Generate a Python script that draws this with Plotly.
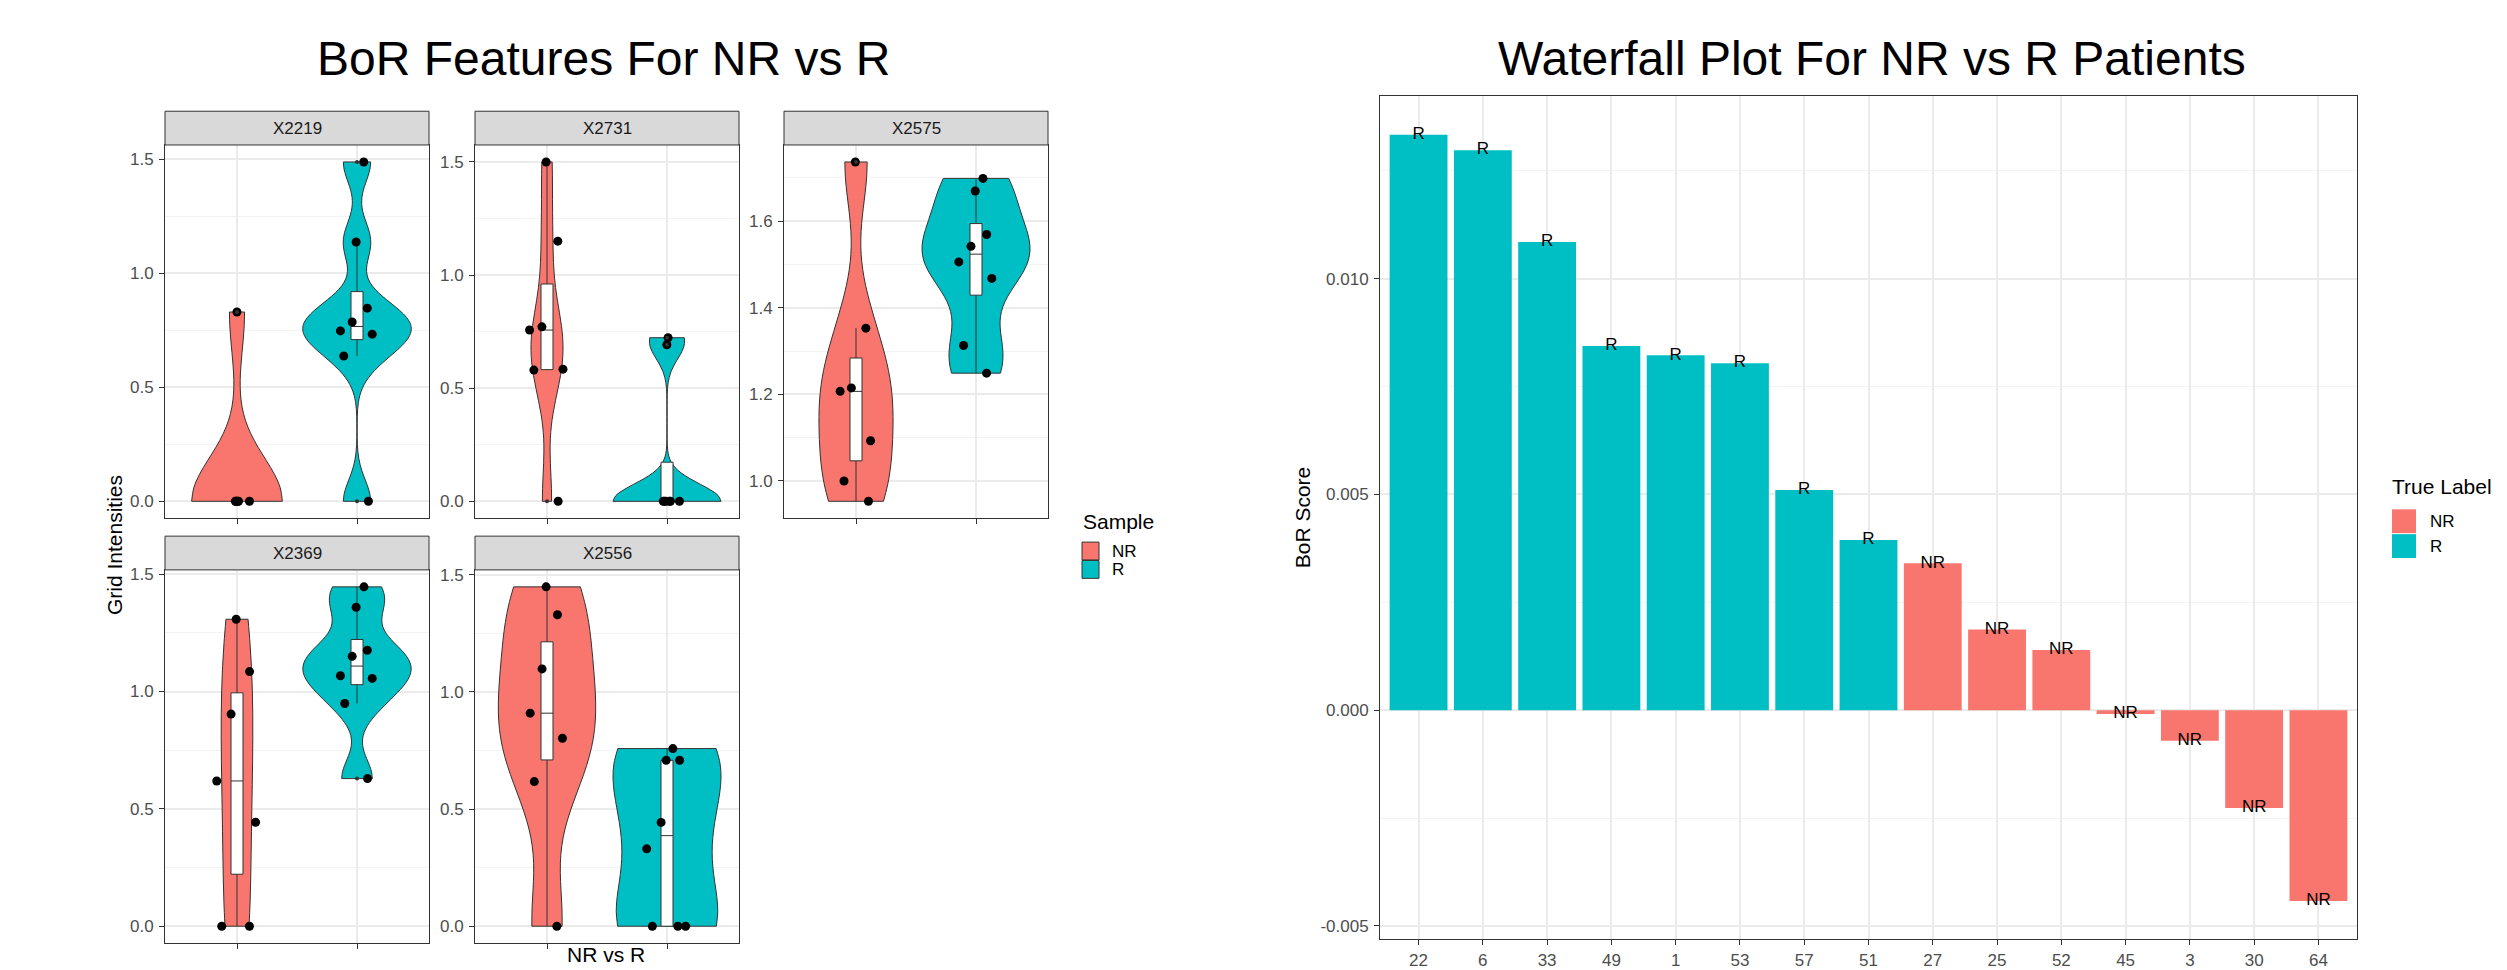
import numpy as np
import plotly.graph_objects as go

W, H = 2507, 970

# ---------------- data: violin panels ----------------
features = ["X2219", "X2731", "X2575", "X2369", "X2556"]
groups = ["NR", "R"]

x2219_nr = [0.0, 0.0, 0.0, 0.0, 0.0, 0.0, 0.83]
x2219_r = [1.488, 1.137, 0.847, 0.786, 0.747, 0.733, 0.637, 0.0]
x2731_nr = [1.50, 1.15, 0.771, 0.757, 0.584, 0.580, 0.0]
x2731_r = [0.723, 0.692, 0.0, 0.0, 0.0, 0.0, 0.0, 0.0]
x2575_nr = [1.737, 1.353, 1.215, 1.207, 1.093, 1.0, 0.953]
x2575_r = [1.699, 1.670, 1.5695, 1.542, 1.506, 1.468, 1.313, 1.249]
x2369_nr = [1.308, 1.085, 0.904, 0.619, 0.443, 0.0, 0.0]
x2369_r = [1.446, 1.359, 1.176, 1.150, 1.067, 1.056, 0.949, 0.629]
x2556_nr = [1.448, 1.329, 1.098, 0.909, 0.802, 0.617, 0.0]
x2556_r = [0.758, 0.708, 0.708, 0.443, 0.330, 0.0, 0.0, 0.0]

panel_data = {
    "X2219": (x2219_nr, x2219_r),
    "X2731": (x2731_nr, x2731_r),
    "X2575": (x2575_nr, x2575_r),
    "X2369": (x2369_nr, x2369_r),
    "X2556": (x2556_nr, x2556_r),
}

# ---------------- data: waterfall ----------------
patients = ["22", "6", "33", "49", "1", "53", "57", "51", "27", "25", "52", "45", "3", "30", "64"]
bor_scores = [0.013337, 0.012977, 0.010851, 0.008441, 0.008222, 0.008041, 0.005103,
              0.003943, 0.003402, 0.001869, 0.001392, -0.00009, -0.000709, -0.002268, -0.00442]
true_labels = ["R", "R", "R", "R", "R", "R", "R", "R", "NR", "NR", "NR", "NR", "NR", "NR", "NR"]
wf_yticks = [-0.005, 0.0, 0.005, 0.010]
wf_yticktext = ["-0.005", "0.000", "0.005", "0.010"]

COLORS = {"NR": "#F8766D", "R": "#00BFC4"}
FONT = "Liberation Sans, Arial, Helvetica, sans-serif"
GRID = "#EBEBEB"
MINOR = "#F3F3F3"
BORDER = "#333333"
TICKTXT = "#4D4D4D"


def px(x):
    return x / W


def py(y):
    return 1 - y / H


def bw_nrd0(v):
    v = np.asarray(v, dtype=float)
    hi = np.std(v, ddof=1)
    q75, q25 = np.percentile(v, [75, 25])
    lo = min(hi, (q75 - q25) / 1.34)
    if not lo:
        lo = hi or abs(v[0]) or 1.0
    return 0.9 * lo * len(v) ** (-0.2)


def kde_max(v, bw):
    v = np.asarray(v, dtype=float)
    grid = np.linspace(v.min(), v.max(), 512)
    d = np.exp(-0.5 * ((grid[:, None] - v[None, :]) / bw) ** 2).sum(axis=1)
    d = d / (len(v) * bw * np.sqrt(2 * np.pi))
    return d.max()


def box_stats(v):
    v = np.asarray(v, dtype=float)
    q1, med, q3 = np.percentile(v, [25, 50, 75])  # R type 7
    iqr = q3 - q1
    lo, hi = q1 - 1.5 * iqr, q3 + 1.5 * iqr
    inside = v[(v >= lo) & (v <= hi)]
    outl = v[(v < lo) | (v > hi)]
    return q1, med, q3, inside.min(), inside.max(), outl


# panel pixel boxes (left, right, top, bottom)
panel_boxes = {
    "X2219": (165, 429, 141, 517),
    "X2731": (475, 739, 141, 517),
    "X2575": (784, 1048, 141, 517),
    "X2369": (165, 429, 569, 945),
    "X2556": (475, 739, 569, 945),
}
strip_h = 34
panel_ticks = {
    "X2219": (0.5, 0.0), "X2731": (0.5, 0.0), "X2575": (0.2, 1.0),
    "X2369": (0.5, 0.0), "X2556": (0.5, 0.0),
}

fig = go.Figure()
layout = dict(
    width=W, height=H, autosize=False,
    margin=dict(l=0, r=0, t=0, b=0, pad=0),
    paper_bgcolor="white", plot_bgcolor="white",
    showlegend=False, font=dict(family=FONT, color="black"),
    boxmode="overlay", violinmode="overlay", barmode="overlay",
    shapes=[], annotations=[],
)

for i, feat in enumerate(features):
    k = i + 1
    xa = "x" if k == 1 else f"x{k}"
    ya = "y" if k == 1 else f"y{k}"
    l, r, t, b = panel_boxes[feat]
    nr, rr = panel_data[feat]
    allv = np.array(nr + rr)
    ymin, ymax = allv.min(), allv.max()
    pad = 0.05 * (ymax - ymin)
    dt, t0 = panel_ticks[feat]

    bws = [bw_nrd0(v) for v in (nr, rr)]
    kmax = [kde_max(v, bw) for v, bw in zip((nr, rr), bws)]
    kpanel = max(kmax)

    # violins (area-scaled within the panel)
    for g, vals, bw, km in zip(groups, (nr, rr), bws, kmax):
        fig.add_trace(go.Violin(
            x=[g] * len(vals), y=vals, xaxis=xa, yaxis=ya,
            fillcolor=COLORS[g], line=dict(color=BORDER, width=1),
            points=False, spanmode="hard", bandwidth=bw,
            scalegroup=f"p{k}{g}", scalemode="width", width=0.9 * km / kpanel,
            opacity=1, hoverinfo="skip", showlegend=False,
        ))
    # narrow white boxplots (R type-7 quartiles)
    outliers = []
    for g, vals in zip(groups, (nr, rr)):
        q1, med, q3, lf, uf, outl = box_stats(vals)
        fig.add_trace(go.Box(
            x=[g], q1=[q1], median=[med], q3=[q3], lowerfence=[lf], upperfence=[uf],
            xaxis=xa, yaxis=ya, width=0.1, fillcolor="white",
            line=dict(color=BORDER, width=1), whiskerwidth=0, boxpoints=False,
            hoverinfo="skip", showlegend=False,
        ))
        outliers.append((g, outl))
    # jittered sample points
    for g, vals in zip(groups, (nr, rr)):
        fig.add_trace(go.Box(
            x=[g] * len(vals), y=vals, xaxis=xa, yaxis=ya,
            width=0.4, fillcolor="rgba(0,0,0,0)",
            line=dict(color="rgba(0,0,0,0)", width=0),
            whiskerwidth=0, boxpoints="all", pointpos=0, jitter=1,
            marker=dict(color="black", size=9),
            hoverinfo="skip", showlegend=False,
        ))
    # boxplot outliers (small dots)
    for g, outl in outliers:
        if len(outl):
            fig.add_trace(go.Scatter(
                x=[g] * len(outl), y=list(outl), mode="markers", xaxis=xa, yaxis=ya,
                marker=dict(color=BORDER, size=4), hoverinfo="skip", showlegend=False,
            ))

    layout["xaxis" if k == 1 else f"xaxis{k}"] = dict(
        domain=[px(l), px(r)], anchor=ya, type="category",
        categoryorder="array", categoryarray=groups, range=[-0.6, 1.6],
        showgrid=True, gridcolor=GRID, gridwidth=2,
        showline=True, linecolor=BORDER, linewidth=1, mirror=True,
        ticks="outside", ticklen=5, tickcolor=BORDER, tickwidth=1,
        showticklabels=False, zeroline=False, fixedrange=True,
    )
    layout["yaxis" if k == 1 else f"yaxis{k}"] = dict(
        domain=[py(b), py(t)], anchor=xa,
        range=[ymin - pad, ymax + pad],
        tickmode="linear", tick0=t0, dtick=dt, tickformat=".1f",
        showgrid=True, gridcolor=GRID, gridwidth=2,
        minor=dict(tickmode="linear", tick0=t0, dtick=dt / 2, showgrid=True,
                   gridcolor=MINOR, gridwidth=1, ticks=""),
        showline=True, linecolor=BORDER, linewidth=1, mirror=True,
        ticks="outside", ticklen=5, tickcolor=BORDER, tickwidth=1,
        tickfont=dict(size=17, color=TICKTXT, family=FONT),
        ticklabelstandoff=2, zeroline=False, fixedrange=True,
    )
    # strip
    layout["shapes"].append(dict(
        type="rect", xref="paper", yref="paper",
        x0=px(l), x1=px(r), y0=py(t), y1=py(t - strip_h),
        fillcolor="#D9D9D9", line=dict(color=BORDER, width=1), layer="above",
    ))
    layout["annotations"].append(dict(
        text=feat, xref="paper", yref="paper", x=px((l + r) / 2), y=py(t - strip_h / 2),
        xanchor="center", yanchor="middle", showarrow=False,
        font=dict(size=17, color="#1A1A1A", family=FONT),
    ))

# ---------------- waterfall ----------------
WL, WR, WT, WB = 1380, 2357, 92, 941
for lab in ["NR", "R"]:
    xs = [p for p, t in zip(patients, true_labels) if t == lab]
    ys = [v for v, t in zip(bor_scores, true_labels) if t == lab]
    fig.add_trace(go.Bar(
        x=xs, y=ys, xaxis="x6", yaxis="y6", width=0.9,
        marker=dict(color=COLORS[lab], line=dict(width=0)),
        hoverinfo="skip", showlegend=False, name=lab,
    ))
fig.add_trace(go.Scatter(
    x=patients, y=bor_scores, mode="text", text=true_labels,
    textposition="middle center", xaxis="x6", yaxis="y6",
    textfont=dict(size=17, color="black", family=FONT),
    hoverinfo="skip", showlegend=False,
))
smin, smax = min(bor_scores), max(bor_scores)
spad = 0.05 * (smax - smin)
layout["xaxis6"] = dict(
    domain=[px(WL), px(WR)], anchor="y6", type="category",
    categoryorder="array", categoryarray=patients, range=[-0.6, len(patients) - 0.4],
    showgrid=True, gridcolor=GRID, gridwidth=2,
    showline=True, linecolor=BORDER, linewidth=1, mirror=True,
    ticks="outside", ticklen=5, tickcolor=BORDER, tickwidth=1,
    tickfont=dict(size=17, color=TICKTXT, family=FONT),
    zeroline=False, fixedrange=True,
)
layout["yaxis6"] = dict(
    domain=[py(WB), py(WT)], anchor="x6",
    range=[smin - spad, smax + spad],
    tickmode="array", tickvals=wf_yticks, ticktext=wf_yticktext,
    showgrid=True, gridcolor=GRID, gridwidth=2,
    minor=dict(tickmode="linear", tick0=0, dtick=0.0025, showgrid=True,
               gridcolor=MINOR, gridwidth=1, ticks=""),
    showline=True, linecolor=BORDER, linewidth=1, mirror=True,
    ticks="outside", ticklen=5, tickcolor=BORDER, tickwidth=1,
    tickfont=dict(size=17, color=TICKTXT, family=FONT),
    ticklabelstandoff=2, zeroline=False, fixedrange=True,
)

ann = layout["annotations"]


def text(t, x, y, size, xanchor="center", yanchor="middle", angle=0, color="black"):
    ann.append(dict(text=t, xref="paper", yref="paper", x=px(x), y=py(y),
                    xanchor=xanchor, yanchor=yanchor, showarrow=False, textangle=angle,
                    font=dict(size=size, color=color, family=FONT)))


# titles
text("BoR Features For NR vs R", 603, 54, 48)
text("Waterfall Plot For NR vs R Patients", 1872, 54, 48)
# axis titles
text("Grid Intensities", 114, 544, 21, angle=-90)
text("NR vs R", 606, 970, 21, yanchor="bottom")
text("BoR Score", 1302, 516, 21, angle=-90)

# legend: Sample
text("Sample", 1081, 520, 21, xanchor="left")
for j, g in enumerate(groups):
    y0 = 541 + j * 18.5
    layout["shapes"].append(dict(type="rect", xref="paper", yref="paper",
                                 x0=px(1082), x1=px(1099), y0=py(y0 + 18), y1=py(y0),
                                 fillcolor=COLORS[g], line=dict(color=BORDER, width=1)))
    text(g, 1110, y0 + 9.5, 17, xanchor="left")

# legend: True Label
text("True Label", 2390, 485, 21, xanchor="left")
for j, g in enumerate(groups):
    y0 = 508 + j * 25
    layout["shapes"].append(dict(type="rect", xref="paper", yref="paper",
                                 x0=px(2392), x1=px(2416), y0=py(y0 + 24), y1=py(y0),
                                 fillcolor=COLORS[g], line=dict(width=0)))
    text(g, 2428, y0 + 12, 17, xanchor="left")

fig.update_layout(**layout)
fig.write_html("out.html", config={"displayModeBar": False},
               post_script="document.body.style.margin='0px';document.body.style.padding='0px';")
